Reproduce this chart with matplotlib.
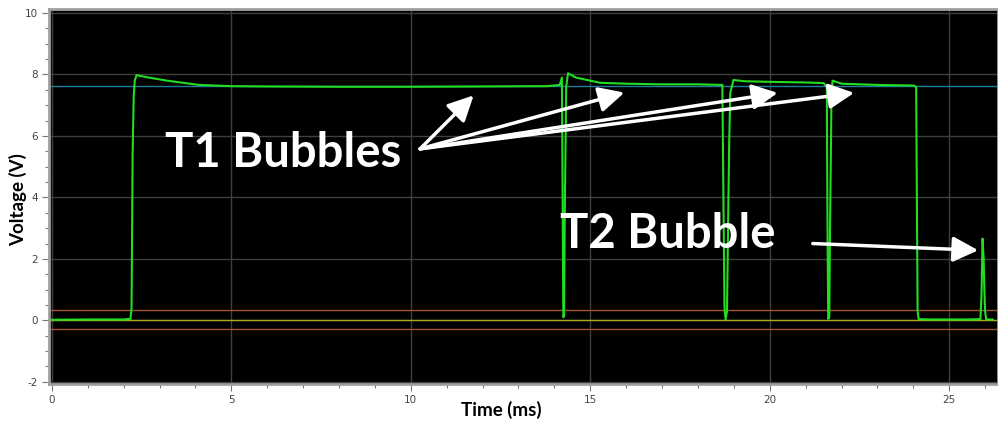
import matplotlib
matplotlib.use("Agg")
import matplotlib.pyplot as plt
from matplotlib.ticker import MultipleLocator

plt.rcParams["axes.unicode_minus"] = False

# ---- data ----
time_ms = [0.0, 1.0, 2.0, 2.19, 2.22, 2.25, 2.28, 2.31, 2.36, 2.6, 3.2, 4.1, 5.0, 6.0,
           8.0, 10.0, 12.0, 13.8, 14.15, 14.21, 14.23, 14.25, 14.27, 14.29, 14.33,
           14.38, 14.6, 15.27, 16.0, 16.94, 18.0, 18.68, 18.71, 18.74, 18.77, 18.81,
           18.85, 18.87, 18.9, 18.99, 19.3, 20.0, 21.0, 21.5, 21.59, 21.61, 21.63,
           21.66, 21.68, 21.7, 21.72, 21.75, 22.0, 23.0, 24.0, 24.08, 24.1, 24.12,
           24.15, 24.5, 25.0, 25.5, 25.87, 25.9, 25.93, 25.96, 25.98, 26.0, 26.03,
           26.1, 26.21]
voltage_v = [0.02, 0.03, 0.03, 0.05, 0.4, 5.4, 7.3, 7.8, 7.98, 7.92, 7.8, 7.66, 7.62,
             7.61, 7.6, 7.6, 7.61, 7.62, 7.66, 7.9, 4.0, 0.1, 0.15, 3.5, 7.6,
             8.04, 7.9, 7.73, 7.7, 7.68, 7.68, 7.66, 4.0, 0.4, 0.03, 0.3,
             4.0, 5.7, 7.4, 7.82, 7.78, 7.76, 7.74, 7.72, 7.6, 3.0, 0.05,
             0.1, 3.0, 5.0, 7.2, 7.8, 7.7, 7.66, 7.64, 7.6, 4.0, 0.3,
             0.04, 0.03, 0.03, 0.03, 0.04, 0.8, 2.66, 2.0, 1.0, 0.3, 0.04,
             0.03, 0.03]

ref_upper = 7.61
ref_hi = 0.33
ref_zero = 0.02
ref_lo = -0.27

x_ticks = [0, 5, 10, 15, 20, 25]
y_ticks = [-2, 0, 2, 4, 6, 8, 10]

t1_label = "T1 Bubbles"
t2_label = "T2 Bubble"

# ---- figure ----
fig = plt.figure(figsize=(9.98, 4.21), dpi=100, facecolor="white")
ax = fig.add_axes([49 / 998, 37 / 421, 949 / 998, 375 / 421])
ax.set_facecolor("black")

ax.set_xlim(-0.08, 26.36)
ax.set_ylim(-2.07, 10.13)

# grid
for xv in x_ticks:
    ax.axvline(xv, color="#3f3f3f", lw=1.0, zorder=1)
for yv in y_ticks:
    ax.axhline(yv, color="#3f3f3f", lw=1.0, zorder=1)

# reference lines
ax.axhline(ref_upper, color="#1b7d9c", lw=1.0, zorder=2)
ax.axhline(ref_hi, color="#a5532a", lw=1.0, zorder=2)
ax.axhline(ref_lo, color="#a5532a", lw=1.0, zorder=2)
ax.axhline(ref_zero, color="#a8a820", lw=1.0, zorder=2)

# signal
ax.plot(time_ms, voltage_v, color="#22dd22", lw=1.5, zorder=3)

# ticks
ax.set_xticks(x_ticks)
ax.set_yticks(y_ticks)
ax.xaxis.set_minor_locator(MultipleLocator(1))
ax.yaxis.set_minor_locator(MultipleLocator(0.5))
ax.tick_params(which="major", length=5, width=0.8, color="#777777",
               labelsize=7.5, labelcolor="#444444", pad=3)
ax.tick_params(which="minor", length=3, width=0.8, color="#777777")
for sp in ax.spines.values():
    sp.set_color("#a0a0a0")
    sp.set_linewidth(2.0)

# axis labels
fig.text(18 / 998, 1 - 200 / 421, "Voltage (V)", rotation=90, ha="center",
         va="center", fontsize=13.5, fontweight="bold", family="Lato", color="black")
fig.text(501 / 998, 1 - 410 / 421, "Time (ms)", ha="center", va="center",
         fontsize=13.5, fontweight="bold", family="Lato", color="black")

# annotations
ax.text(3.16, 4.98, t1_label, color="white", fontsize=34, fontweight="bold",
        family="Lato", va="baseline", ha="left", zorder=5)
ax.text(14.16, 2.35, t2_label, color="white", fontsize=34, fontweight="bold",
        family="Lato", va="baseline", ha="left", zorder=5)

arrow_kw = dict(arrowstyle="-|>,head_length=1.1,head_width=0.55", color="white",
                lw=2.5, shrinkA=0, shrinkB=0, mutation_scale=14)
origin = (10.26, 5.58)
for tip in [(11.75, 7.32), (15.95, 7.41), (20.22, 7.40), (22.35, 7.40)]:
    ax.annotate("", xy=tip, xytext=origin, arrowprops=arrow_kw, zorder=6)
ax.annotate("", xy=(25.81, 2.28), xytext=(21.2, 2.5), arrowprops=arrow_kw, zorder=6)

fig.savefig("out.png", dpi=100, facecolor="white")
